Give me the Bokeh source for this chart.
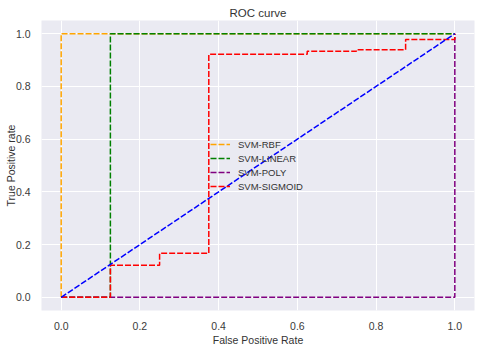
from bokeh.plotting import figure
from bokeh.models import Range1d, FixedTicker, Legend, LegendItem
from bokeh.embed import file_html
from bokeh.resources import INLINE

# ---- data ----
fpr_rbf = [0.0, 0.0, 1.0]
tpr_rbf = [0.0, 1.0, 1.0]
fpr_linear = [0.0, 0.125, 0.125, 1.0]
tpr_linear = [0.0, 0.0, 1.0, 1.0]
fpr_poly = [0.0, 1.0, 1.0]
tpr_poly = [0.0, 0.0, 1.0]
fpr_sigmoid = [0.0, 0.125, 0.125, 0.25, 0.25, 0.375, 0.375, 0.625, 0.625, 0.75, 0.75, 0.875, 0.875, 1.0, 1.0]
tpr_sigmoid = [0.0, 0.0, 0.122, 0.122, 0.167, 0.167, 0.922, 0.922, 0.933, 0.933, 0.939, 0.939, 0.978, 0.978, 1.0]
chance_x = [0.0, 1.0]
chance_y = [0.0, 1.0]
ticks = [0.0, 0.2, 0.4, 0.6, 0.8, 1.0]
tick_labels = {0.0: "0.0", 0.2: "0.2", 0.4: "0.4", 0.6: "0.6", 0.8: "0.8", 1.0: "1.0"}

FONT = "Liberation Sans"

p = figure(width=480, height=348, output_backend="svg", toolbar_location=None,
           x_range=Range1d(-0.05, 1.05), y_range=Range1d(-0.05, 1.05),
           title="ROC curve", min_border_left=41, min_border_right=6,
           min_border_top=20, min_border_bottom=38)

p.background_fill_color = "#EAEAF2"
p.border_fill_color = "white"
p.outline_line_color = None

p.title.align = "center"
p.title.text_font = FONT
p.title.text_font_size = "11.5px"
p.title.text_font_style = "normal"
p.title.text_color = "#333333"
p.title.standoff = 3

for ax in (p.xaxis[0], p.yaxis[0]):
    ax.ticker = FixedTicker(ticks=ticks)
    ax.major_label_overrides = tick_labels
    ax.axis_line_color = None
    ax.major_tick_line_color = None
    ax.minor_tick_line_color = None
    ax.major_label_text_font = FONT
    ax.major_label_text_font_size = "10.5px"
    ax.major_label_text_color = "#3a3a3a"
    ax.axis_label_text_font = FONT
    ax.axis_label_text_font_size = "10.5px"
    ax.axis_label_text_font_style = "normal"
    ax.axis_label_text_color = "#333333"

p.xaxis.major_label_standoff = 5
p.xaxis.axis_label_standoff = 1
p.yaxis.major_label_standoff = 5
p.yaxis.axis_label_standoff = -4

p.xaxis.axis_label = "False Positive Rate"
p.yaxis.axis_label = "True Positive rate"

p.grid.grid_line_color = "white"
p.grid.grid_line_width = 1
p.xgrid.ticker = FixedTicker(ticks=ticks)
p.ygrid.ticker = FixedTicker(ticks=ticks)

dash = "6 2"
lw = 1.5
r1 = p.line(fpr_rbf, tpr_rbf, line_color="orange", line_dash=dash, line_width=lw)
r2 = p.line(fpr_linear, tpr_linear, line_color="green", line_dash=dash, line_width=lw)
r3 = p.line(fpr_poly, tpr_poly, line_color="purple", line_dash=dash, line_width=lw)
r4 = p.line(fpr_sigmoid, tpr_sigmoid, line_color="red", line_dash=dash, line_width=lw)
p.line(chance_x, chance_y, line_color="blue", line_dash=dash, line_width=lw)

legend = Legend(items=[LegendItem(label="SVM-RBF", renderers=[r1]),
                       LegendItem(label="SVM-LINEAR", renderers=[r2]),
                       LegendItem(label="SVM-POLY", renderers=[r3]),
                       LegendItem(label="SVM-SIGMOID", renderers=[r4])],
                location=(169, 117))
legend.background_fill_alpha = 0
legend.border_line_alpha = 0
legend.padding = 0
legend.margin = 0
legend.spacing = 0
legend.label_height = 14
legend.glyph_height = 14
legend.glyph_width = 20
legend.label_standoff = 8
legend.label_text_font = FONT
legend.label_text_font_size = "9.5px"
legend.label_text_color = "#333333"
p.add_layout(legend, "center")

open("out.html", "w").write(file_html(p, INLINE))
